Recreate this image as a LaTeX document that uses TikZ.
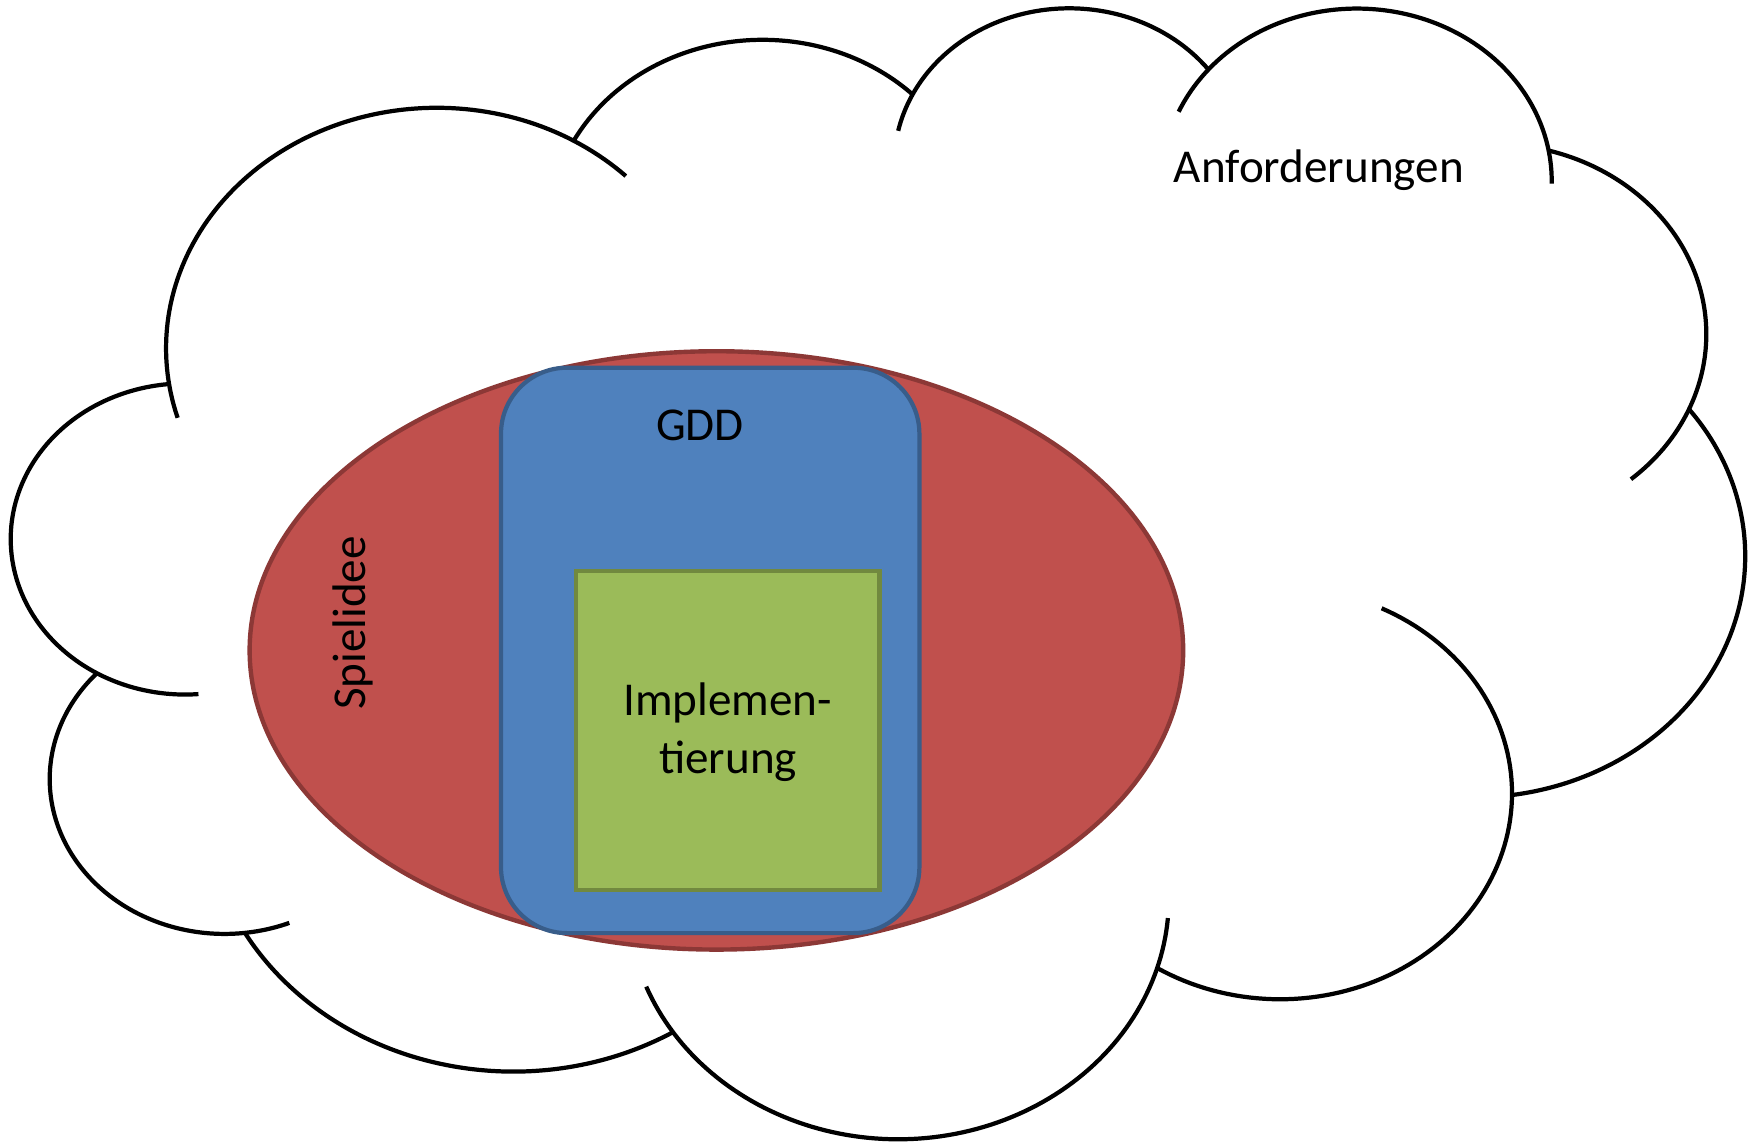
\documentclass[tikz,border=0pt]{standalone}
\usepackage{fontspec}
\setmainfont{Carlito}
\definecolor{redfill}{HTML}{C0504D}
\definecolor{redline}{HTML}{8C3836}
\definecolor{bluefill}{HTML}{4F81BD}
\definecolor{blueline}{HTML}{385D8A}
\definecolor{greenfill}{HTML}{9BBB59}
\definecolor{greenline}{HTML}{71893F}
\tikzset{
  cloudline/.style={draw=black, line width=1.2pt},
  txt/.style={font=\fontsize{13.4}{16.3}\selectfont, inner sep=0pt, text=black},
}
\begin{document}
\begin{tikzpicture}[x=0.01cm, y=-0.01cm]
\useasboundingbox (0,0) rectangle (1757,1142);
\fill[white] (0,0) rectangle (1757,1142);
% cloud (bumps with their inner ticks), drawn in the shape's own 432x432 frame
\begin{scope}[shift={(12.13,4.61)}, xscale=4.0099, yscale=2.6170]
\foreach \cx/\cy/\rx/\ry/\ta/\tb in {
  105.9137/131.3128/67.53/91.90/-196.807/-45.733,
  187.1492/86.1110/53.33/72.67/-152.023/-45.453,
  263.6197/60.8584/43.65/59.45/-167.726/-37.327,
  335.3806/67.4544/48.57/65.95/-156.282/0.821,
  369.1703/125.9376/53.33/72.73/-74.768/49.644,
  364.4540/210.7610/67.75/92.20/-37.526/81.863,
  316.1959/301.4016/57.85/78.67/-64.025/121.976,
  220.9379/341.4315/67.52/92.15/4.738/158.474,
  125.0318/302.2835/77.20/105.43/58.989/150.185,
  52.9677/295.9267/43.60/59.18/-291.763/-136.893,
  43.0933/204.1848/43.45/59.45/-274.453/-95.887}
  \draw[cloudline] plot[domain=\ta:\tb, samples=100, variable=\t]
     ({\cx+\rx*cos(\t)},{\cy+\ry*sin(\t)});
\end{scope}
% Spielidee ellipse
\draw[fill=redfill, draw=redline, line width=1.25pt]
  (716.4,650.4) ellipse [x radius=4.665cm, y radius=2.99cm];
% GDD rounded rectangle
\draw[fill=bluefill, draw=blueline, line width=1.2pt, rounded corners=0.66cm]
  (501,367.7) rectangle (919.4,933.1);
% Implementierung rectangle
\draw[fill=greenfill, draw=greenline, line width=1.2pt]
  (576,571.3) rectangle (879.6,889.6);
% texts
\node[txt, anchor=base] (anf) at (1318.8,182.1) {Anforderungen};
\node[txt, anchor=base] (gdd) at (700,440.8) {GDD};
\node[txt, anchor=base] (impla) at (727.6,715.6) {Implemen-};
\node[txt, anchor=base] (implb) at (728.1,773) {tierung};
\node[txt, anchor=base, rotate=90] (spiel) at (365.8,623) {Spielidee};
\end{tikzpicture}
\end{document}
